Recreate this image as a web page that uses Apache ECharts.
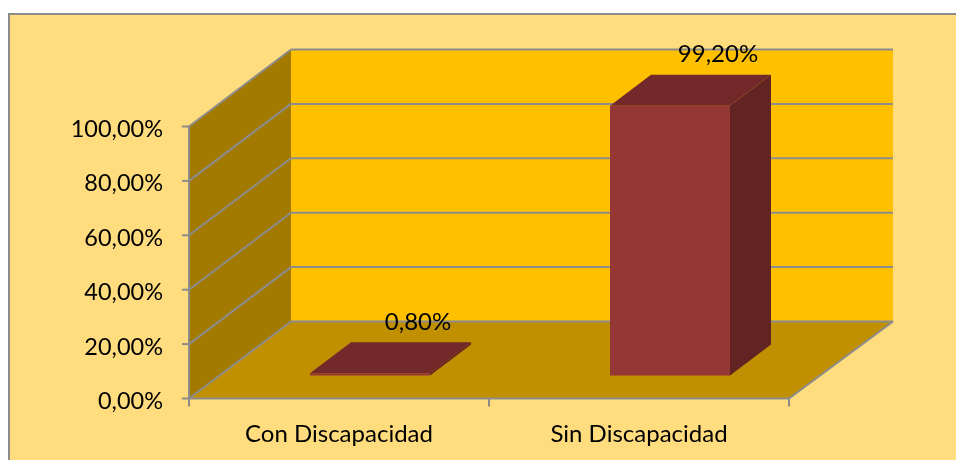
<!DOCTYPE html>
<html>

<head>
    <meta charset="utf-8">
    <title>Discapacidad</title>
    <script src="https://cdn.jsdelivr.net/npm/echarts@6/dist/echarts.min.js"></script>
    <style>
        html, body { margin: 0; padding: 0; background: #fff; }
    </style>
</head>

<body>
    <div id="main" style="width: 956px;height:460px;"></div>
    <script type="text/javascript">
        var categories = ['Con Discapacidad', 'Sin Discapacidad'];
        var values = [0.8, 99.2];
        var valueLabels = ['0,80%', '99,20%'];
        var yTicks = [0, 20, 40, 60, 80, 100];

        // fake 3D depth, in pixels
        var wallDepth = [102, -77];
        var wallDepthRight = [104, -77];
        var barFront = [31, -23];
        var barDepth = [41, -31];
        var barWidth = 120;
        var labelOffset = [48, -51];

        var font = 'Lato';
        var grey = '#8c8c8c';

        var myChart = echarts.init(document.getElementById('main'));

        function shift(p, d) {
            return [p[0] + d[0], p[1] + d[1]];
        }

        function poly(points, fill) {
            return {
                type: 'polygon',
                shape: { points: points },
                style: { fill: fill }
            };
        }

        function line(a, b) {
            return {
                type: 'line',
                shape: { x1: a[0], y1: a[1], x2: b[0], y2: b[1] },
                style: { stroke: grey, lineWidth: 2 }
            };
        }

        // walls and floor
        function renderWalls(params, api) {
            var box = params.coordSys;
            var left = box.x, right = box.x + box.width;
            var y0 = api.coord([0, 0])[1];
            var y100 = api.coord([0, 100])[1];
            var a = [left, y0], b = [right, y0], c = [left, y100], d = [right, y100];
            var children = [
                poly([shift(a, wallDepth), shift(b, wallDepthRight), shift(d, wallDepthRight), shift(c, wallDepth)], '#ffc000'),
                poly([a, shift(a, wallDepth), shift(c, wallDepth), c], '#a27a00'),
                poly([a, b, shift(b, wallDepthRight), shift(a, wallDepth)], '#c09000')
            ];
            yTicks.forEach(function (t) {
                var y = api.coord([0, t])[1];
                var p = [left, y], q = shift(p, wallDepth);
                children.push(line(p, q));
                children.push(line(q, shift([right, y], wallDepthRight)));
                children.push(line([left - 7, y], p));
            });
            children.push(line(a, c));
            children.push(line(a, b));
            children.push(line(b, shift(b, wallDepthRight)));
            [0, 0.5, 1].forEach(function (f) {
                var x = left + box.width * f;
                children.push(line([x, y0], [x, y0 + 8]));
            });
            return { type: 'group', children: children };
        }

        function renderBar(params, api) {
            var i = api.value(0);
            var center = api.coord([i, 0]);
            var top = api.coord([i, api.value(1)]);
            var x0 = center[0] - barWidth / 2 + barFront[0];
            var x1 = x0 + barWidth;
            var a = [x0, center[1] + barFront[1]];
            var b = [x1, a[1]];
            var c = [x1, top[1] + barFront[1]];
            var d = [x0, c[1]];
            return {
                type: 'group',
                children: [
                    poly([b, shift(b, barDepth), shift(c, barDepth), c], '#622323'),
                    poly([d, c, shift(c, barDepth), shift(d, barDepth)], '#73292a'),
                    poly([a, b, c, d], '#953735'),
                    {
                        type: 'text',
                        style: {
                            x: (x0 + x1) / 2 + labelOffset[0],
                            y: c[1] + labelOffset[1],
                            text: valueLabels[i],
                            fill: '#000',
                            font: '24px ' + font,
                            align: 'center',
                            verticalAlign: 'middle'
                        }
                    }
                ]
            };
        }

        var option = {
            animation: false,
            backgroundColor: '#ffffff',
            graphic: [{
                type: 'rect',
                z: -10,
                shape: { x: 9, y: 14, width: 960, height: 460 },
                style: { fill: '#ffdc7d', stroke: grey, lineWidth: 2 }
            }],
            grid: { left: 189, top: 126.5, width: 600, height: 272 },
            xAxis: {
                type: 'category',
                data: categories,
                axisLine: { show: false },
                axisTick: { show: false },
                axisLabel: { color: '#000', fontFamily: font, fontSize: 24, margin: 24 }
            },
            yAxis: {
                type: 'value',
                min: 0,
                max: 100,
                interval: 20,
                axisLine: { show: false },
                axisTick: { show: false },
                splitLine: { show: false },
                axisLabel: {
                    color: '#000',
                    fontFamily: font,
                    fontSize: 23.5,
                    margin: 26,
                    verticalAlign: 'top',
                    lineHeight: 6,
                    formatter: function (v) { return v + ',00%'; }
                }
            },
            series: [{
                type: 'custom',
                renderItem: renderWalls,
                data: [[0, 0]],
                silent: true,
                z: 1,
                clip: false
            }, {
                type: 'custom',
                renderItem: renderBar,
                data: values.map(function (v, i) { return [i, v]; }),
                z: 2,
                clip: false
            }]
        };

        myChart.setOption(option);
    </script>
</body>

</html>
